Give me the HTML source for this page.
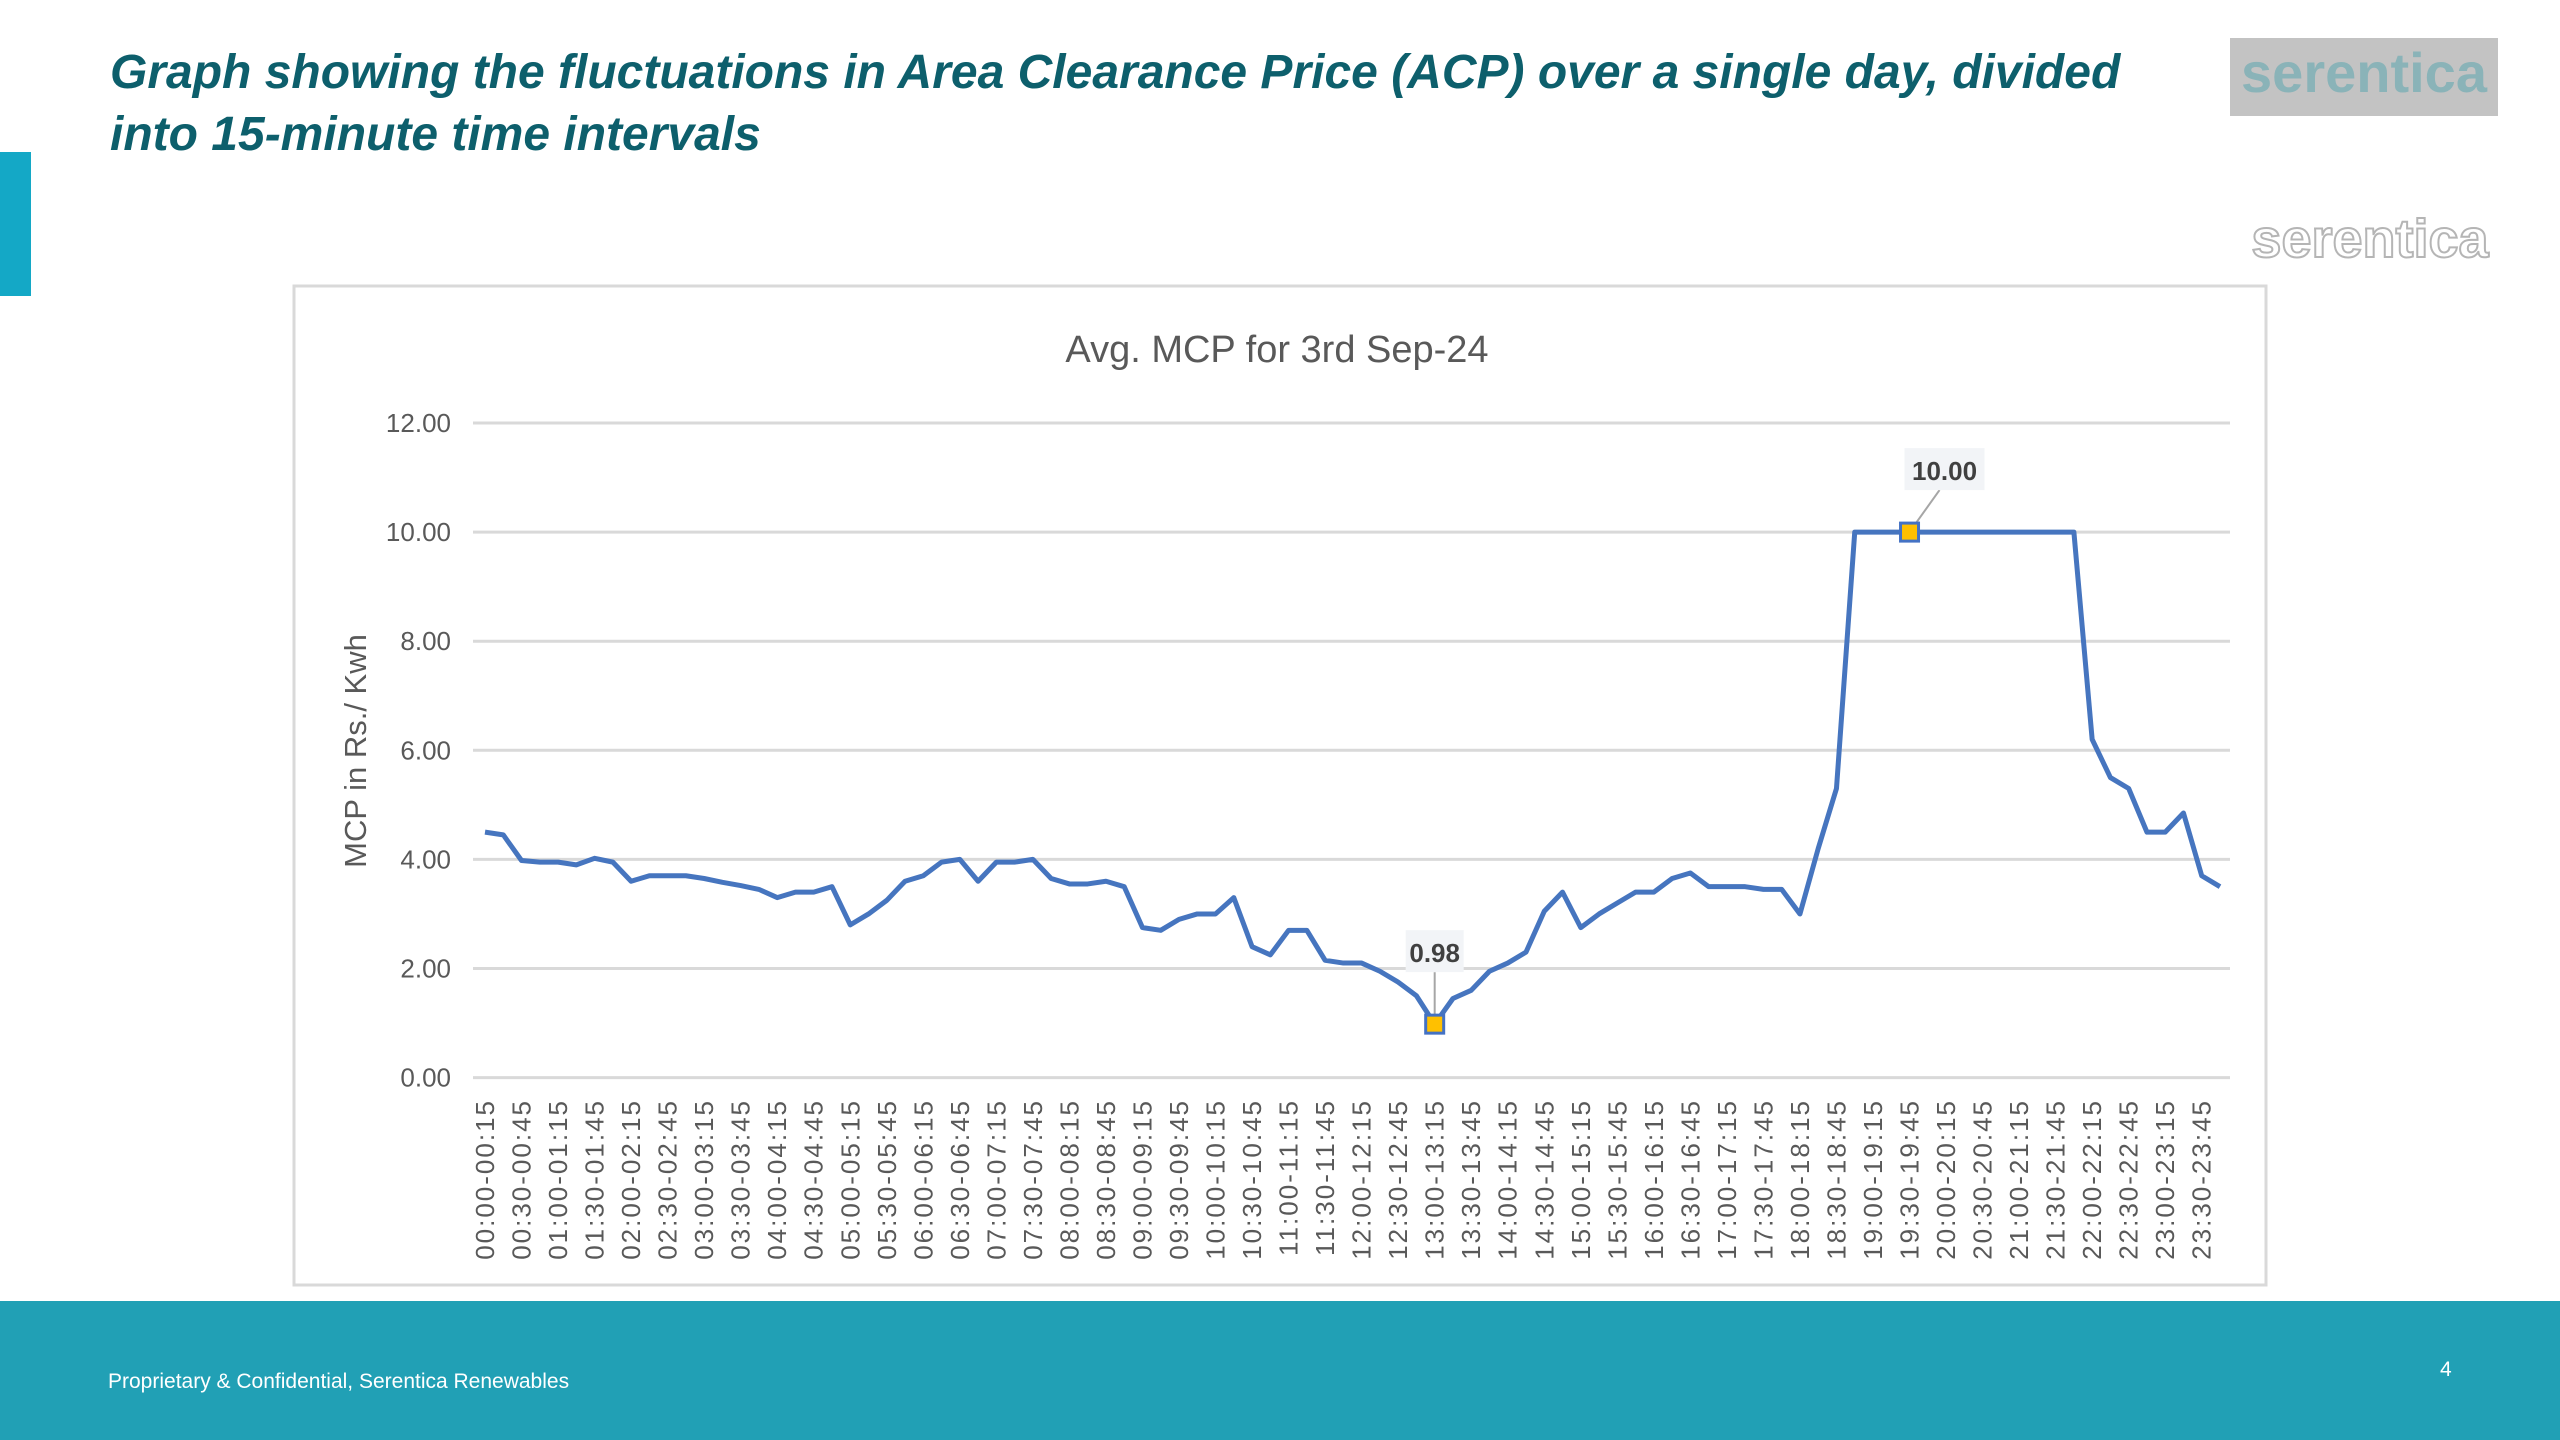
<!DOCTYPE html>
<html><head><meta charset="utf-8">
<style>
body{margin:0;width:2560px;height:1440px;position:relative;background:#fff;overflow:hidden;font-family:"Liberation Sans",sans-serif;}
.t{position:absolute;left:110px;top:42px;font-size:48px;font-weight:bold;font-style:italic;color:#0d5f6c;line-height:62px;width:2150px;}
</style></head><body>
<div class="t">Graph showing the fluctuations in Area Clearance Price (ACP) over a single day, divided<br>into 15-minute time intervals</div>
<div style="position:absolute;left:0;top:152px;width:31px;height:144px;background:#14a8c6"></div>
<div style="position:absolute;left:2230px;top:38px;width:268px;height:78px;background:#c3c3c3;color:#8ab3b8;font-size:56px;font-weight:bold;text-align:center;line-height:70px">serentica</div>
<div style="position:absolute;left:2236px;top:208px;width:268px;font-size:54px;font-weight:bold;color:#fff;-webkit-text-stroke:2px #b5b5b5;text-align:center">serentica</div>
<svg id="chart" style="position:absolute;left:0;top:0" width="2560" height="1440"></svg>
<div style="position:absolute;left:0;top:1301px;width:2560px;height:139px;background:#21a0b5"></div>
<div style="position:absolute;left:108px;top:1370px;color:#fff;font-size:21px">Proprietary &amp; Confidential, Serentica Renewables</div>
<div style="position:absolute;left:2440px;top:1358px;color:#fff;font-size:21px">4</div>
<script>
const values=[4.5,4.45,3.98,3.95,3.95,3.9,4.02,3.95,3.6,3.7,3.7,3.7,3.65,3.58,3.52,3.45,3.3,3.4,3.4,3.5,2.8,3.0,3.25,3.6,3.7,3.95,4.0,3.6,3.95,3.95,4.0,3.65,3.55,3.55,3.6,3.5,2.75,2.7,2.9,3.0,3.0,3.3,2.4,2.25,2.7,2.7,2.15,2.1,2.1,1.95,1.75,1.5,0.98,1.45,1.6,1.95,2.1,2.3,3.05,3.4,2.75,3.0,3.2,3.4,3.4,3.65,3.75,3.5,3.5,3.5,3.45,3.45,3.0,4.2,5.3,10,10,10,10,10,10,10,10,10,10,10,10,10,6.2,5.5,5.3,4.5,4.5,4.85,3.7,3.5];
const yTicks=[0,2,4,6,8,10,12];
const markIdx=[52,78];
const NS="http://www.w3.org/2000/svg";
const svg=document.getElementById('chart');
function el(t,a,p){const e=document.createElementNS(NS,t);for(const k in a)e.setAttribute(k,a[k]);(p||svg).appendChild(e);return e;}
function pad(n){return String(n).padStart(2,'0');}
function tm(m){return pad(Math.floor(m/60))+':'+pad(m%60);}
const cats=values.map((v,i)=>tm(i*15)+'-'+tm(i*15+15));
const X0=485,X1=2220,Y0=1077.6,Y12=423;
const xs=i=>X0+(X1-X0)*i/(values.length-1);
const ys=v=>Y0-(Y0-Y12)*v/12;
const frame=el('rect',{x:294,y:286,width:1972,height:999,fill:'#fff',stroke:'#d9d9d9','stroke-width':3});

const ct=el('text',{x:1277,y:362,'text-anchor':'middle','font-size':38,fill:'#595959','font-family':'Liberation Sans'});ct.textContent='Avg. MCP for 3rd Sep-24';

yTicks.forEach(t=>{
 const g=el('line',{x1:473,x2:2230,y1:ys(t),y2:ys(t),stroke:'#d9d9d9','stroke-width':3});
 
 const l=el('text',{x:451,y:ys(t)+9,'text-anchor':'end','font-size':26,fill:'#595959'});l.textContent=t.toFixed(2);
 
});
const yt=el('text',{x:0,y:0,transform:'translate(366,751) rotate(-90)','text-anchor':'middle','font-size':31,fill:'#595959'});yt.textContent='MCP in Rs./ Kwh';

cats.forEach((c,i)=>{if(i%2)return;
 const l=el('text',{x:0,y:0,transform:`translate(${xs(i)+9},1099) rotate(-90)`,'text-anchor':'end','font-size':26,'letter-spacing':2,fill:'#595959'});l.textContent=c;
 
});
const line=el('polyline',{points:values.map((v,i)=>xs(i)+','+ys(v)).join(' '),fill:'none',stroke:'#4675bf','stroke-width':5,'stroke-linejoin':'round'});

markIdx.forEach((i,k)=>{
 const x=xs(i),y=ys(values[i]);
 const txt=values[i].toFixed(2);
 const bw=k?80:58,bx=k?x+35:x,by=k?y-60:y-70;
 const lead=el('line',{x1:x,y1:y,x2:k?bx-5:x,y2:by+18,stroke:'#a6a6a6','stroke-width':2});
 
 const b=el('rect',{x:bx-bw/2,y:by-24,width:bw,height:42,fill:'#f2f4f7'});
 
 const t=el('text',{x:bx,y:by+8,'text-anchor':'middle','font-size':26,'font-weight':'bold',fill:'#404040'});t.textContent=txt;
 
 const m=el('rect',{x:x-9,y:y-9,width:18,height:18,fill:'#ffc000',stroke:'#4472c4','stroke-width':3});
 
});
</script>
</body></html>
